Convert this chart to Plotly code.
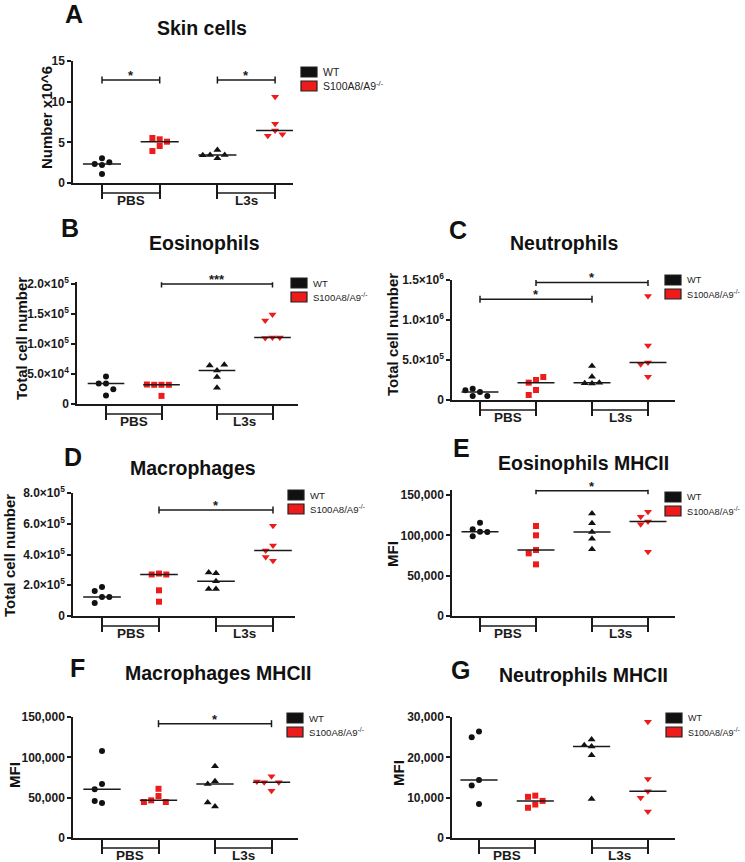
import numpy as np
import plotly.graph_objects as go

# ---------------- data ----------------
treatments = ["PBS", "L3s"]
legend_labels = ["WT", "S100A8/A9<sup>-/-</sup>"]
panel_letters = ["A", "B", "C", "D", "E", "F", "G"]
panel_titles = ["Skin cells", "Eosinophils", "Neutrophils", "Macrophages",
                "Eosinophils MHCII", "Macrophages MHCII", "Neutrophils MHCII"]
y_titles = ["Number x10^6", "Total cell number", "Total cell number",
            "Total cell number", "MFI", "MFI", "MFI"]

# A  Skin cells (x10^6)
skin_wt_pbs = [3.03, 2.34, 2.21, 2.54, 1.11]
skin_ko_pbs = [5.37, 5.53, 5.08, 4.55, 3.93]
skin_wt_l3s = [4.06, 3.44, 3.03, 3.45, 3.42]
skin_ko_l3s = [10.6, 7.3, 6.45, 5.8, 6.0]
skin_ticks = [0, 5, 10, 15]
skin_ticktext = ["0", "5", "10", "15"]

# B  Eosinophils
eos_wt_pbs = [34000, 34000, 46000, 24500, 14000]
eos_ko_pbs = [32000, 32000, 32000, 32500, 13500]
eos_wt_l3s = [56000, 64000, 65500, 45000, 27000]
eos_ko_l3s = [149000, 139000, 111000, 110000, 111000]
eos_ticks = [0, 50000, 100000, 150000, 200000]
eos_ticktext = ["0", "5.0×10<sup>4</sup>", "1.0×10<sup>5</sup>", "1.5×10<sup>5</sup>", "2.0×10<sup>5</sup>"]

# C  Neutrophils
neu_wt_pbs = [100000, 142000, 50000, 50000, 121000]
neu_ko_pbs = [250000, 217000, 287000, 125000, 63000]
neu_wt_l3s = [425000, 290000, 210000, 217000, 205000]
neu_ko_l3s = [1300000, 680000, 470000, 446000, 290000]
neu_ticks = [0, 500000, 1000000, 1500000]
neu_ticktext = ["0", "5.0×10<sup>5</sup>", "1.0×10<sup>6</sup>", "1.5×10<sup>6</sup>"]

# D  Macrophages
mac_wt_pbs = [189000, 163000, 124000, 124000, 85000]
mac_ko_pbs = [276000, 270000, 270000, 167000, 93000]
mac_wt_l3s = [278000, 283000, 226000, 176000, 176000]
mac_ko_l3s = [587000, 459000, 426000, 360000, 383000]
mac_ticks = [0, 200000, 400000, 600000, 800000]
mac_ticktext = ["0", "2.0×10<sup>5</sup>", "4.0×10<sup>5</sup>", "6.0×10<sup>5</sup>", "8.0×10<sup>5</sup>"]

# E  Eosinophils MHCII
eosm_wt_pbs = [104500, 115700, 99000, 104000, 107400]
eosm_ko_pbs = [111600, 100000, 81800, 77700, 64000]
eosm_wt_l3s = [127000, 114900, 104000, 95900, 82600]
eosm_ko_l3s = [129300, 123000, 117000, 113600, 79800]
mfi150_ticks = [0, 50000, 100000, 150000]
mfi150_ticktext = ["0", "50,000", "100,000", "150,000"]

# F  Macrophages MHCII
macm_wt_pbs = [107800, 66900, 60300, 43400, 45900]
macm_ko_pbs = [61000, 52000, 46700, 44600, 44600]
macm_wt_l3s = [88800, 70200, 66900, 39000, 44000]
macm_ko_l3s = [76400, 69000, 69000, 70000, 58700]

# G  Neutrophils MHCII
neum_wt_pbs = [26400, 25000, 14400, 13000, 8400]
neum_ko_pbs = [10500, 10200, 9200, 8300, 7500]
neum_wt_l3s = [24400, 23000, 22700, 20500, 9700]
neum_ko_l3s = [28800, 14600, 11600, 10000, 6600]
mfi30_ticks = [0, 10000, 20000, 30000]
mfi30_ticktext = ["0", "10,000", "20,000", "30,000"]

# significance comparisons: (group a, group b, level, label)
sig_skin = [(0, 1, 12.66, "*"), (2, 3, 12.66, "*")]
sig_eos = [(1, 3, 200000, "***")]
sig_neu = [(1, 3, 1470000, "*"), (0, 2, 1260000, "*")]
sig_mac = [(1, 3, 690000, "*")]
sig_eosm = [(1, 3, 155300, "*")]
sig_macm = [(1, 3, 141700, "*")]
sig_neum = []

panel_data = [
    ([skin_wt_pbs, skin_ko_pbs, skin_wt_l3s, skin_ko_l3s], skin_ticks, skin_ticktext, sig_skin),
    ([eos_wt_pbs, eos_ko_pbs, eos_wt_l3s, eos_ko_l3s], eos_ticks, eos_ticktext, sig_eos),
    ([neu_wt_pbs, neu_ko_pbs, neu_wt_l3s, neu_ko_l3s], neu_ticks, neu_ticktext, sig_neu),
    ([mac_wt_pbs, mac_ko_pbs, mac_wt_l3s, mac_ko_l3s], mac_ticks, mac_ticktext, sig_mac),
    ([eosm_wt_pbs, eosm_ko_pbs, eosm_wt_l3s, eosm_ko_l3s], mfi150_ticks, mfi150_ticktext, sig_eosm),
    ([macm_wt_pbs, macm_ko_pbs, macm_wt_l3s, macm_ko_l3s], mfi150_ticks, mfi150_ticktext, sig_macm),
    ([neum_wt_pbs, neum_ko_pbs, neum_wt_l3s, neum_ko_l3s], mfi30_ticks, mfi30_ticktext, sig_neum),
]

# ---------------- layout (pixels) ----------------
W, H = 745, 862
FONT = "Liberation Sans, Arial, sans-serif"
AX = "#1a1a1a"
RED = "#ee1b1b"
BLACK = "#111111"
group_styles = [("circle", BLACK, 6), ("square", RED, 6),
                ("triangle-up", BLACK, 7), ("triangle-down", RED, 7)]

# xl/xr: x-axis extent, c0: first category px, sp: spacing px,
# yb: px of 0, yt: px of top tick, rtop: range top (data)
layout_px = [
    dict(xl=73, xr=293, c0=102, sp=57.7, yb=183, yt=61, rtop=15, lfs=10.5,
         letter=(74, 14), title=(202, 28), ytitle=(47, 118), leg=(301, 67)),
    dict(xl=77, xr=298, c0=106, sp=55.5, yb=404, yt=284, rtop=203000, lfs=9.5,
         letter=(70, 228), title=(204, 243), ytitle=(22, 339), leg=(291, 278)),
    dict(xl=452, xr=675, c0=480, sp=56, yb=400, yt=280, rtop=1500000, lfs=9.2,
         letter=(458, 230), title=(564, 243), ytitle=(392, 335), leg=(665, 275)),
    dict(xl=73, xr=295, c0=102, sp=57, yb=616, yt=493, rtop=800000, lfs=9.6,
         letter=(73, 457), title=(193, 468), ytitle=(9, 556), leg=(288, 490)),
    dict(xl=452, xr=675, c0=480, sp=56, yb=616, yt=495, rtop=156500, lfs=9.2,
         letter=(462, 448), title=(583, 463), ytitle=(392, 554), leg=(665, 492)),
    dict(xl=73, xr=298, c0=102, sp=56.5, yb=838, yt=717, rtop=150000, lfs=9.6,
         letter=(77, 668), title=(218, 673), ytitle=(14, 775), leg=(287, 713)),
    dict(xl=452, xr=675, c0=479, sp=56.3, yb=838, yt=717, rtop=30000, lfs=9.0,
         letter=(460, 670), title=(583, 675), ytitle=(398, 773), leg=(666, 713)),
]


def px2x(px):
    return px / W


def px2y(py):
    return 1 - py / H


def swarm(values, ppu_y, step_units, d_px=6.5):
    placed, offs = [], []
    order = [0, -1, 1, -2, 2, -3, 3]
    for v in values:
        ypx = v * ppu_y
        slot = 0
        for s in order:
            if all(not (ps == s and abs(py - ypx) < d_px) for ps, py in placed):
                slot = s
                break
        placed.append((slot, ypx))
        offs.append(slot * step_units)
    return offs


fig = go.Figure()
annotations, shapes, axes = [], [], {}
MW = 0.33

for i, (p, (groups, ticks, ticktext, sigs)) in enumerate(zip(layout_px, panel_data)):
    s = "" if i == 0 else str(i + 1)
    xr, yr = "x" + s, "y" + s
    ymax = ticks[-1]
    ppu = (p["yb"] - p["yt"]) / ymax
    ytop_px = p["yb"] - ppu * p["rtop"]
    axes["xaxis" + s] = dict(
        domain=[px2x(p["xl"]), px2x(p["xr"])],
        range=[(p["xl"] - p["c0"]) / p["sp"], (p["xr"] - p["c0"]) / p["sp"]],
        anchor=yr, tickmode="array", tickvals=[0, 1, 2, 3], ticks="outside",
        ticklen=14, tickwidth=1.5, tickcolor=AX, showline=True, linecolor=AX,
        linewidth=1.5, showticklabels=False, showgrid=False, zeroline=False,
        automargin=False)
    axes["yaxis" + s] = dict(
        domain=[px2y(p["yb"]), px2y(ytop_px)], range=[0, p["rtop"]],
        anchor=xr, tickmode="array", tickvals=ticks, ticktext=ticktext,
        ticks="outside", ticklen=4, tickwidth=1.5, tickcolor=AX, showline=True,
        linecolor=AX, linewidth=1.5, showgrid=False, zeroline=False,
        automargin=False,
        tickfont=dict(family=FONT, size=12, color=AX, weight="bold"))

    for g, vals in enumerate(groups):
        sym, col, size = group_styles[g]
        offs = swarm(vals, ppu, 7.3 / p["sp"])
        fig.add_trace(go.Scatter(
            x=[g + o for o in offs], y=vals, mode="markers", xaxis=xr, yaxis=yr,
            marker=dict(symbol=sym, color=col, size=size, line=dict(width=0)),
            showlegend=False, cliponaxis=False, hoverinfo="skip"))
        med = float(np.median(vals))
        fig.add_trace(go.Scatter(
            x=[g - MW, g + MW], y=[med, med], mode="lines", xaxis=xr, yaxis=yr,
            line=dict(color=AX, width=1.5), showlegend=False, hoverinfo="skip"))

    # treatment brackets below the x axis
    for t, (a, b) in enumerate([(0, 1), (2, 3)]):
        shapes.append(dict(type="line", xref=xr, yref=yr + " domain", ysizemode="pixel",
                           yanchor=0, x0=a, x1=b, y0=-10, y1=-10,
                           line=dict(color=AX, width=1.5)))
        annotations.append(dict(text=treatments[t], xref=xr, yref=yr + " domain",
                                x=(a + b) / 2, y=0, yshift=-17.5, showarrow=False,
                                xanchor="center", yanchor="middle",
                                font=dict(family=FONT, size=13.5, color=AX, weight="bold")))

    # significance bars
    for a, b, lvl, lab in sigs:
        shapes.append(dict(type="line", xref=xr, yref=yr, x0=a, x1=b, y0=lvl, y1=lvl,
                           line=dict(color=AX, width=1.5)))
        for xe in (a, b):
            shapes.append(dict(type="line", xref=xr, yref=yr, ysizemode="pixel",
                               yanchor=lvl, x0=xe, x1=xe, y0=-3.5, y1=3.5,
                               line=dict(color=AX, width=1.5)))
        annotations.append(dict(text=lab, xref=xr, yref=yr, x=(a + b) / 2, y=lvl,
                                yshift=-5, showarrow=False, xanchor="center",
                                yanchor="bottom",
                                font=dict(family=FONT, size=13, color=AX, weight="bold")))

    # panel letter, title, y title
    lx, ly = p["letter"]
    annotations.append(dict(text=panel_letters[i], xref="paper", yref="paper",
                            x=px2x(lx), y=px2y(ly), showarrow=False, xanchor="center",
                            yanchor="middle",
                            font=dict(family=FONT, size=25, color="#111", weight="bold")))
    tx, ty = p["title"]
    annotations.append(dict(text=panel_titles[i], xref="paper", yref="paper",
                            x=px2x(tx), y=px2y(ty), showarrow=False, xanchor="center",
                            yanchor="middle",
                            font=dict(family=FONT, size=19.5, color="#111", weight="bold")))
    yx, yy = p["ytitle"]
    annotations.append(dict(text=y_titles[i], xref="paper", yref="paper",
                            x=px2x(yx), y=px2y(yy), showarrow=False, textangle=-90,
                            xanchor="center", yanchor="middle",
                            font=dict(family=FONT, size=15, color="#111", weight="bold")))

    # legend (boxes + labels)
    bx, by = p["leg"]
    for k, col in enumerate([BLACK, RED]):
        top = by + k * 14
        shapes.append(dict(type="rect", xref="paper", yref="paper",
                           x0=px2x(bx), x1=px2x(bx + 16), y0=px2y(top + 10), y1=px2y(top),
                           fillcolor=col, line=dict(color="#222", width=1.2)))
        annotations.append(dict(text=legend_labels[k], xref="paper", yref="paper",
                                x=px2x(bx + 20), y=px2y(top + 5), showarrow=False,
                                xanchor="left", yanchor="middle",
                                font=dict(family=FONT, size=p["lfs"], color="#222")))

fig.update_layout(
    width=W, height=H,
    margin=dict(l=0, r=0, t=0, b=0, pad=0, autoexpand=False),
    paper_bgcolor="white", plot_bgcolor="white", showlegend=False,
    annotations=annotations, shapes=shapes, **axes)

fig.write_html("out.html", config={"displayModeBar": False},
               post_script="document.body.style.margin='0';")
